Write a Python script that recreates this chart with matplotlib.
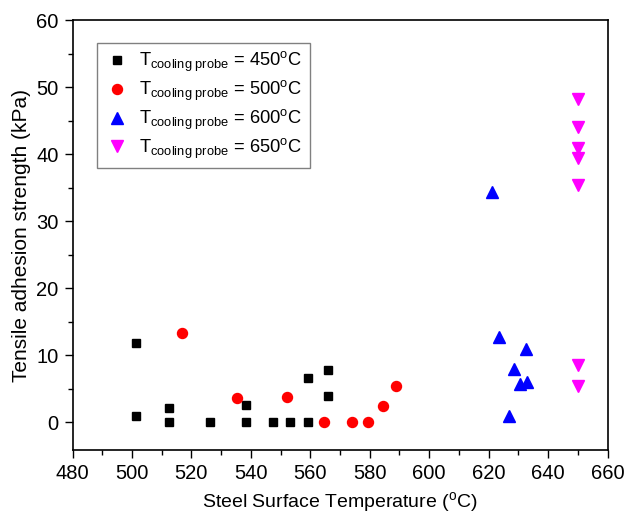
import numpy as np
import matplotlib.pyplot as plt
from matplotlib.ticker import MultipleLocator

plt.rcParams['font.family'] = 'Liberation Sans'
plt.rcParams['mathtext.fontset'] = 'custom'
plt.rcParams['mathtext.rm'] = 'Liberation Sans'
plt.rcParams['mathtext.it'] = 'Liberation Sans'

# data
x450 = [501.4, 501.4, 512.4, 512.4, 526.1, 538.5, 538.5, 547.4, 553.3, 559.4, 559.4, 565.8, 565.8]
y450 = [11.9, 0.9, 2.2, 0.0, 0.0, 2.6, 0.0, 0.0, 0.0, 6.6, 0.0, 7.8, 3.9]
x500 = [516.7, 535.2, 552.2, 564.7, 573.9, 579.5, 584.3, 588.9]
y500 = [13.3, 3.7, 3.8, 0.0, 0.0, 0.0, 2.5, 5.4]
x600 = [621.0, 623.6, 632.6, 628.5, 630.6, 632.8, 626.8]
y600 = [34.4, 12.7, 11.0, 7.9, 5.8, 6.1, 0.9]
x650 = [650, 650, 650, 650, 650, 650, 650]
y650 = [48.2, 44.0, 41.0, 39.5, 35.4, 8.6, 5.5]

fig = plt.figure(figsize=(6.25, 5.16), dpi=100)
ax = fig.add_axes([0.116, 0.128, 0.856, 0.833])

lab = r'T$_{\mathrm{cooling\ probe}}$ = %d$^{\mathrm{o}}$C'
ax.plot(x450, y450, 's', color='black', ms=6.3, label=lab % 450)
ax.plot(x500, y500, 'o', color='red', ms=7.2, label=lab % 500)
ax.plot(x600, y600, '^', color='blue', ms=8, label=lab % 600)
ax.plot(x650, y650, 'v', color='magenta', ms=8, label=lab % 650)

ax.set_xlim(480, 660)
ax.set_ylim(-4.1, 60)
ax.xaxis.set_major_locator(MultipleLocator(20))
ax.xaxis.set_minor_locator(MultipleLocator(10))
ax.yaxis.set_major_locator(MultipleLocator(10))
ax.yaxis.set_minor_locator(MultipleLocator(5))
ax.set_yticks(range(0, 61, 10))
ax.tick_params(which='major', direction='out', length=6, width=1, labelsize=14.5,
               top=False, right=False, pad=4)
ax.tick_params(which='minor', direction='out', length=3.5, width=1, top=False, right=False)
for s in ax.spines.values():
    s.set_linewidth(1.2)

ax.set_xlabel(r'Steel Surface Temperature ($^{\mathrm{o}}$C)', fontsize=14, labelpad=5)
ax.set_ylabel('Tensile adhesion strength (kPa)', fontsize=15, labelpad=4)

leg = ax.legend(loc='upper left', bbox_to_anchor=(0.046, 0.947), fontsize=13.2,
                fancybox=False, framealpha=1, edgecolor='grey', handletextpad=0.5,
                borderpad=0.4, labelspacing=0.25, handlelength=1.4, borderaxespad=0)
leg.get_frame().set_linewidth(1)

fig.savefig('out.png', dpi=100)
